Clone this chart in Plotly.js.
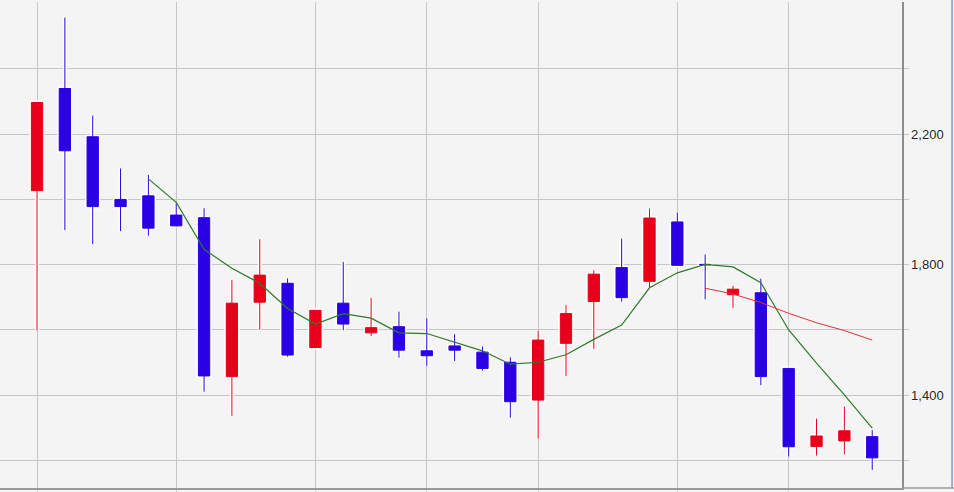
<!DOCTYPE html>
<html>
<head>
<meta charset="utf-8">
<script src="https://cdn.plot.ly/plotly-3.0.1.min.js"></script>
<style>
html,body{margin:0;padding:0;background:#f4f4f4;}
#chart{width:954px;height:492px;}
</style>
</head>
<body>
<div id="chart"></div>
<script>
// trading sessions (index)
const days = [0,1,2,3,4,5,6,7,8,9,10,11,12,13,14,15,16,17,18,19,20,21,22,23,24,25,26,27,28,29,30];
const opens  = [2027,2340,2192,2000,2011,1952,1944,1457,1685,1743,1546,1682,1591,1610,1536,1551,1532,1501,1385,1559,1687,1791,1749,1931,1801,1708,1714,1482,1243,1260,1273];
const highs  = [2297,2557,2257,2095,2075,1988,1973,1753,1878,1758,1661,1808,1698,1656,1636,1587,1549,1516,1597,1676,1783,1880,1972,1959,1831,1735,1757,1484,1328,1365,1293];
const lows   = [1598,1906,1863,1903,1889,1917,1411,1337,1602,1518,1545,1599,1581,1515,1490,1505,1476,1331,1267,1459,1542,1687,1731,1796,1694,1667,1431,1212,1215,1219,1171];
const closes = [2297,2149,1978,1978,1912,1919,1459,1682,1768,1523,1660,1618,1607,1538,1521,1538,1482,1380,1569,1650,1771,1699,1943,1798,1800,1725,1457,1242,1275,1291,1208];
// 5-period moving average
const ma5Days = [4,5,6,7,8,9,10,11,12,13,14,15,16,17,18,19,20,21,22,23,24,25,26,27,28,29,30];
const ma5 = [2063,1991,1847,1789,1743,1666,1618,1650,1636,1591,1589,1563,1536,1495,1501,1524,1571,1615,1729,1775,1801,1793,1745,1600,1498,1401,1299];
// 25-period moving average
const ma25Days = [24,25,26,27,28,29,30];
const ma25 = [1728,1710,1684,1651,1622,1598,1569];
// axis ticks
const yTickVals = [1200,1400,1600,1800,2000,2200,2400];
const yTickText = ["","1,400","","1,800","","2,200",""];
const xTickVals = [0,5,10,14,18,23,27];

const UP = "#e8001a", DOWN = "#2a00e4";

const glow = {
  type: "candlestick", x: days, open: opens, high: highs, low: lows, close: closes,
  increasing: {line: {color: "#ffffff", width: 4}, fillcolor: "#ffffff"},
  decreasing: {line: {color: "#ffffff", width: 4}, fillcolor: "#ffffff"},
  hoverinfo: "skip", showlegend: false
};
const candles = {
  type: "candlestick", x: days, open: opens, high: highs, low: lows, close: closes,
  increasing: {line: {color: UP, width: 1}, fillcolor: UP},
  decreasing: {line: {color: DOWN, width: 1}, fillcolor: DOWN},
  showlegend: false
};
const line5 = {
  type: "scatter", mode: "lines", x: ma5Days, y: ma5,
  line: {color: "#2f7a2a", width: 1.2}, showlegend: false
};
const line25 = {
  type: "scatter", mode: "lines", x: ma25Days, y: ma25,
  line: {color: "#d8333c", width: 1}, showlegend: false
};

const layout = {
  width: 954, height: 492,
  margin: {l: 0, r: 52, t: 2, b: 4, pad: 0},
  paper_bgcolor: "#f4f4f4", plot_bgcolor: "#f4f4f4",
  showlegend: false, hovermode: false, boxgap: 0.42,
  xaxis: {
    range: [-1.33, 31.07], tickvals: xTickVals, ticktext: xTickVals.map(() => ""),
    showgrid: true, gridcolor: "#c6c6c6", gridwidth: 1,
    ticks: "outside", ticklen: 4, tickcolor: "#c6c6c6",
    showline: true, linecolor: "#9a9a9a", linewidth: 1.5,
    zeroline: false, rangeslider: {visible: false}, fixedrange: true
  },
  yaxis: {
    side: "right", range: [1115.6, 2605],
    tickvals: yTickVals, ticktext: yTickText,
    showgrid: true, gridcolor: "#c6c6c6", gridwidth: 1,
    ticks: "outside", ticklen: 5, tickcolor: "#c6c6c6",
    showline: true, linecolor: "#8c8c8c", linewidth: 1.5,
    zeroline: false, fixedrange: true,
    tickfont: {family: "Liberation Sans, Arial, sans-serif", size: 13, color: "#222",
               shadow: "0 0 2px #fff, 0 0 2px #fff, 0 0 3px #fff"}
  },
  shapes: [
    {type: "line", xref: "paper", yref: "paper", x0: 1, x1: 1.06, y0: 0, y1: 0,
     line: {color: "#9a9a9a", width: 1.5}},
    {type: "line", xref: "paper", yref: "paper", x0: 1.0555, x1: 1.0555, y0: 0, y1: 1.01,
     line: {color: "#8a94b8", width: 1.5}}
  ]
};

Plotly.newPlot("chart", [glow, candles, line5, line25], layout, {displayModeBar: false, staticPlot: true});
</script>
</body>
</html>
